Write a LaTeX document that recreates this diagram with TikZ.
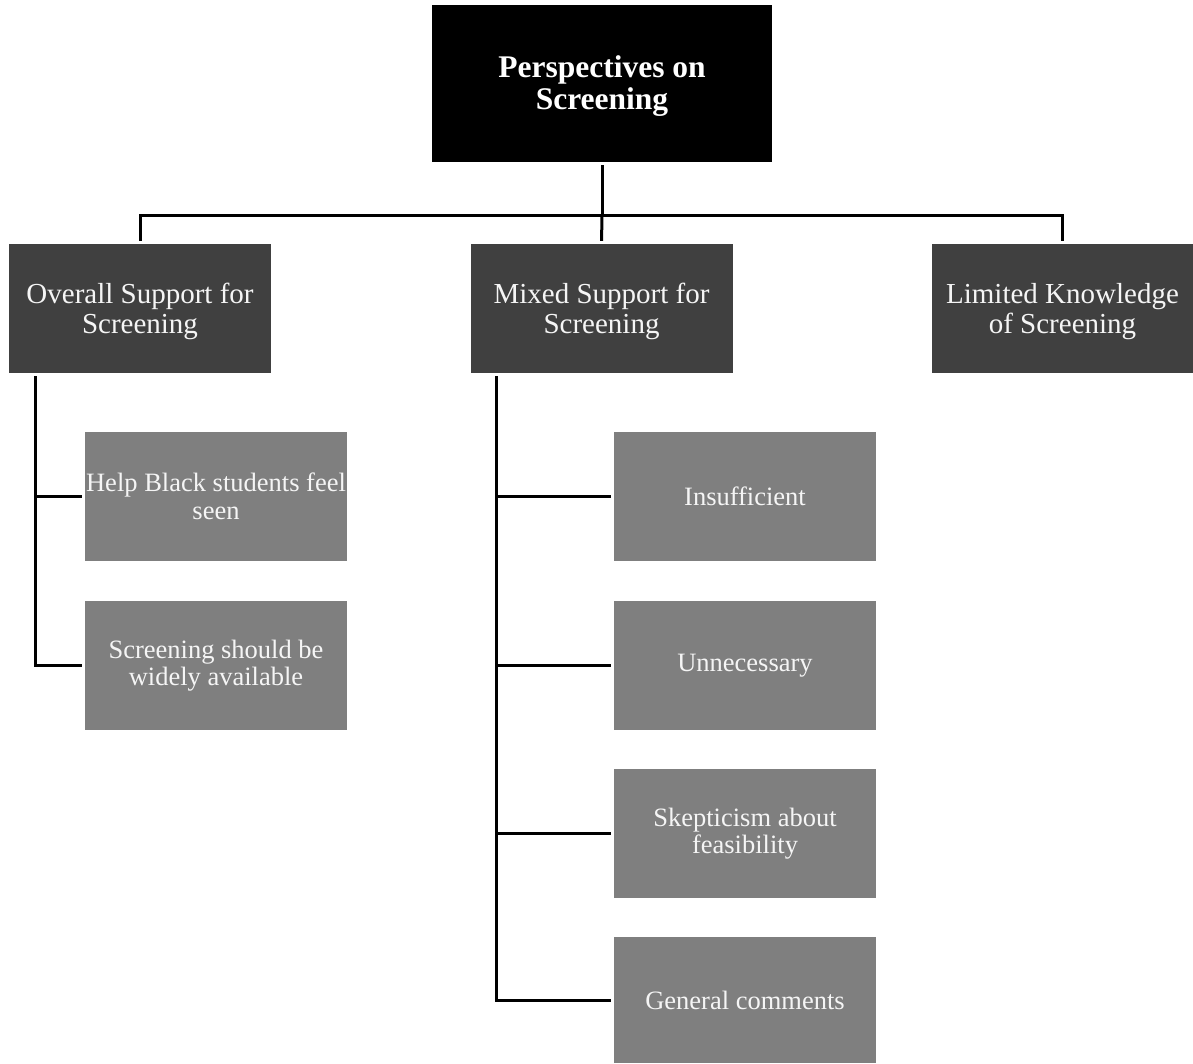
\documentclass[tikz,border=0pt]{standalone}
\usepackage{fontspec}
\setmainfont{Liberation Serif}
\definecolor{lvone}{HTML}{404040}
\definecolor{lvtwo}{HTML}{7F7F7F}
\definecolor{txt}{HTML}{F5F5F5}
\newcommand{\downlbl}[1]{\raisebox{0pt}[\dimexpr\height+7pt\relax][\depth]{\begin{tabular}{@{}c@{}}#1\end{tabular}}}
\begin{document}
\begin{tikzpicture}[x=1pt,y=-1pt,
  rootbox/.style={rectangle,fill=black,text=white,minimum width=340pt,minimum height=157pt,inner sep=0pt,align=center,font=\fontsize{31.5}{31.5}\selectfont\bfseries},
  onebox/.style={rectangle,fill=lvone,text=txt,minimum width=262pt,minimum height=129pt,inner sep=0pt,align=center,font=\fontsize{29}{30}\selectfont},
  twobox/.style={rectangle,fill=lvtwo,text=txt,minimum width=262pt,minimum height=129pt,inner sep=0pt,align=center,font=\fontsize{26.5}{27.5}\selectfont},
  conn/.style={draw=black,line width=3pt}]
\useasboundingbox (0,0) rectangle (1193,1063);
\fill[white] (0,0) rectangle (1193,1063);
\node[rootbox] (root) at (602,83.5) {\downlbl{Perspectives on\\Screening}};
\node[onebox] (A) at (140,308.5) {\downlbl{Overall Support for\\Screening}};
\node[onebox] (B) at (601.5,308.5) {\downlbl{Mixed Support for\\Screening}};
\node[onebox] (C) at (1062.5,308.5) {\downlbl{Limited Knowledge\\of Screening}};
\node[twobox] (a1) at (216,496.5) {Help Black students feel\\seen};
\node[twobox] (a2) at (216,665.5) {Screening should be\\widely available};
\node[twobox] (b1) at (745,496.5) {Insufficient};
\node[twobox] (b2) at (745,665.5) {Unnecessary};
\node[twobox] (b3) at (745,833.5) {Skepticism about\\feasibility};
\node[twobox,minimum height=126pt] (b4) at (745,1000) {General comments};
\coordinate (bus) at (602,215);
\coordinate (sa) at (35,376);
\coordinate (sb) at (496,376);
\draw[conn,shorten <=3pt] (root.south) -- (bus);
\draw[conn,shorten >=3pt] (bus) -| (A.north);
\draw[conn,shorten >=3pt] (bus) -| (C.north);
\draw[conn,shorten >=3pt] (bus) -- (B.north);
\draw[conn,shorten >=3pt] (sa) |- (a1.west);
\draw[conn,shorten >=3pt] (sa) |- (a2.west);
\draw[conn,shorten >=3pt] (sb) |- (b1.west);
\draw[conn,shorten >=3pt] (sb) |- (b2.west);
\draw[conn,shorten >=3pt] (sb) |- (b3.west);
\draw[conn,shorten >=3pt] (sb) |- (b4.west);
\end{tikzpicture}
\end{document}
